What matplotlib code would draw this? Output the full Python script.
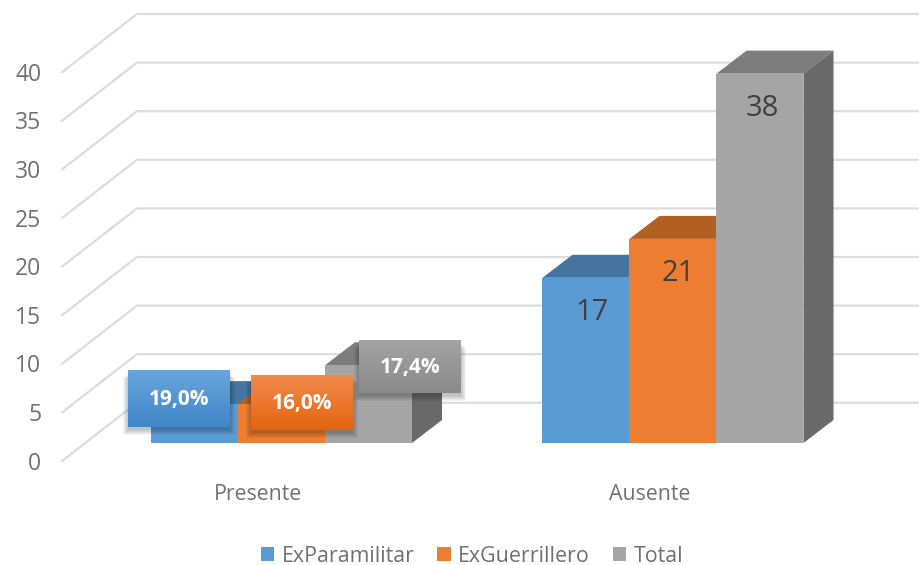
import numpy as np
import matplotlib
matplotlib.use("Agg")
import matplotlib.pyplot as plt
from matplotlib.patches import Polygon, Rectangle

plt.rcParams["font.family"] = ["Open Sans", "DejaVu Sans"]

categories = ["Presente", "Ausente"]
series_names = ["ExParamilitar", "ExGuerrillero", "Total"]
exparamilitar = [4, 17]
exguerrillero = [4, 21]
total = [8, 38]
y_ticks = [0, 5, 10, 15, 20, 25, 30, 35, 40]
present_labels = ["19,0%", "16,0%", "17,4%"]

front_colors = ["#5B9BD5", "#ED7D31", "#A5A5A5"]
top_colors = ["#44749F", "#B25F22", "#7C7C7C"]
side_colors = ["#3A6A94", "#A4561E", "#696969"]
box_tops = ["#69A5DE", "#F08A4B", "#A3A3A3"]
box_bottoms = ["#4186C8", "#E4650F", "#8A8A8A"]

# pixel geometry of the fake 3D view
W, H = 920, 565
PX_PER_UNIT = 9.72
BASE_PX = 443
BAR_W = 87
DEPTH_X = 30
DEPTH_Y = 23 / PX_PER_UNIT
GROUP_LEFT = [151, 542.5]


def py(pixel_y):
    return (BASE_PX - pixel_y) / PX_PER_UNIT


fig = plt.figure(figsize=(W / 100, H / 100), dpi=100)
ax = fig.add_axes([0, 0, 1, 1])
ax.set_axis_off()

# walls: floor-side diagonal plus back wall line
for v in y_ticks:
    ax.plot([62, 137, W], [v + py(461), v + py(402.8), v + py(402.8)],
            color="#DCDCDC", lw=1.6, zorder=1, solid_joinstyle="miter")
    ax.text(41.5, v + py(463.5), str(v), ha="right", va="center",
            fontsize=16.5, color="#707070")

# bars
all_values = [exparamilitar, exguerrillero, total]
z = 2
handles = []
for g, left in enumerate(GROUP_LEFT):
    for s, values in enumerate(all_values):
        v = values[g]
        x0 = left + s * BAR_W
        x1 = x0 + BAR_W
        ax.add_patch(Polygon([(x0, v), (x1, v), (x1 + DEPTH_X, v + DEPTH_Y), (x0 + DEPTH_X, v + DEPTH_Y)],
                             closed=True, fc=top_colors[s], ec="none", zorder=z))
        ax.add_patch(Polygon([(x1, 0), (x1 + DEPTH_X, DEPTH_Y), (x1 + DEPTH_X, v + DEPTH_Y), (x1, v)],
                             closed=True, fc=side_colors[s], ec="none", zorder=z))
        bar = ax.bar(x0, v, width=BAR_W, align="edge", color=front_colors[s], zorder=z + 1,
                     label=series_names[s] if g == 0 else None)
        if g == 0:
            handles.append(bar)
        z += 2

# value labels on Ausente
for s, values in enumerate(all_values):
    xc = GROUP_LEFT[1] + s * BAR_W + BAR_W / 2 + [6, 5, 2][s]
    ax.text(xc, values[1] - 3.6, str(values[1]), ha="center", va="center",
            fontsize=21, color="#404040", zorder=30)

# callout boxes on Presente
box_x = [128, 251, 359]
box_y = [370, 375, 340]
box_h = [57, 55, 53]
box_w = 102
for s, label in enumerate(present_labels):
    x0 = box_x[s]
    y_top = py(box_y[s])
    y_bot = py(box_y[s] + box_h[s])
    # soft shadow
    for grow in range(1, 7):
        ax.add_patch(Rectangle((x0 + 1 - grow, y_bot - 0.25 - grow / PX_PER_UNIT),
                               box_w + 2 * grow - 2, y_top - y_bot,
                               fc="black", ec="none", alpha=0.045, zorder=40 + s * 3))
    grad = np.linspace(0, 1, 64).reshape(-1, 1)
    c0 = np.array(matplotlib.colors.to_rgb(box_tops[s]))
    c1 = np.array(matplotlib.colors.to_rgb(box_bottoms[s]))
    img = c0 + (c1 - c0) * grad[..., None]
    ax.imshow(img, extent=[x0, x0 + box_w, y_bot, y_top], aspect="auto",
              zorder=41 + s * 3, interpolation="bilinear")
    ax.text(x0 + box_w / 2, (y_top + y_bot) / 2 - 0.1, label, ha="center", va="center",
            fontsize=15, fontweight="bold", color="white", zorder=42 + s * 3)

# category labels
for g, name in enumerate(categories):
    ax.text([258.5, 650][g], py(495), name, ha="center", va="center",
            fontsize=15.3, color="#707070")

ax.set_xlim(0, W)
ax.set_ylim(py(H), py(0))

leg = ax.legend(handles=handles, loc="center", bbox_to_anchor=(472 / W, 1 - 556 / H), ncol=3,
                frameon=False, fontsize=15.4, labelcolor="#707070", handlelength=0.63,
                handleheight=0.63, handletextpad=0.35, columnspacing=1.05, borderpad=0)

fig.savefig("out.png", dpi=100)
